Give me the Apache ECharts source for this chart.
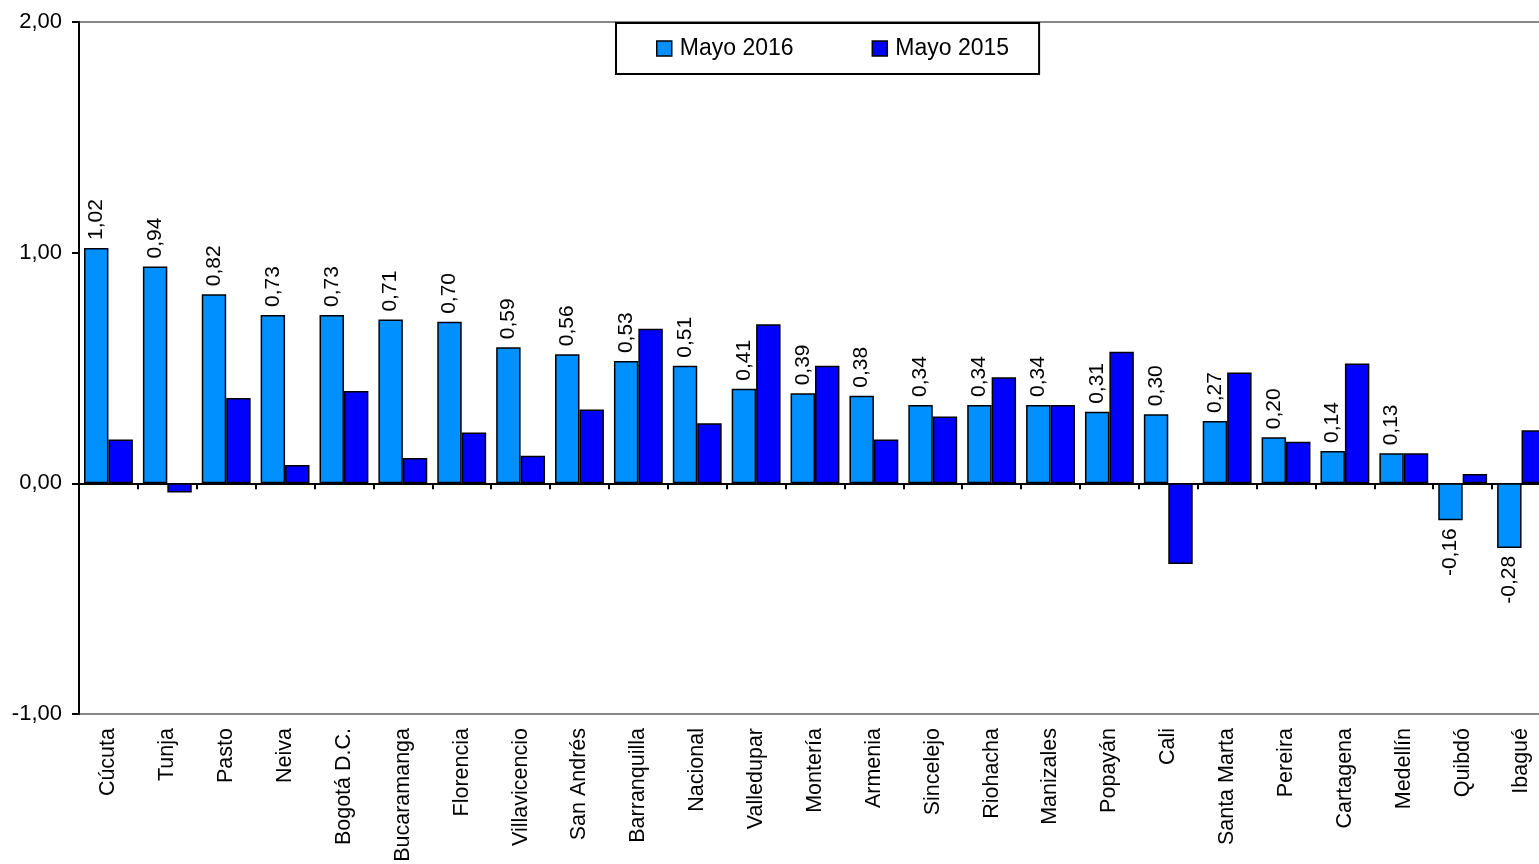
<!DOCTYPE html>
<html>
<head>
<meta charset="utf-8">
<script src="https://cdn.jsdelivr.net/npm/echarts@6/dist/echarts.min.js"></script>
<style>
  html, body { margin: 0; padding: 0; background: #fff; }
  #chart { width: 1539px; height: 864px; }
</style>
</head>
<body>
<div id="chart"></div>
<script>
// Ciudades ordenadas por la variación de mayo 2016
const ciudades = ['Cúcuta', 'Tunja', 'Pasto', 'Neiva', 'Bogotá D.C.', 'Bucaramanga', 'Florencia',
  'Villavicencio', 'San Andrés', 'Barranquilla', 'Nacional', 'Valledupar', 'Montería', 'Armenia',
  'Sincelejo', 'Riohacha', 'Manizales', 'Popayán', 'Cali', 'Santa Marta', 'Pereira', 'Cartagena',
  'Medellín', 'Quibdó', 'Ibagué'];

const mayo2016 = [1.02, 0.94, 0.82, 0.73, 0.73, 0.71, 0.70, 0.59, 0.56, 0.53, 0.51, 0.41, 0.39, 0.38,
  0.34, 0.34, 0.34, 0.31, 0.30, 0.27, 0.20, 0.14, 0.13, -0.16, -0.28];

const mayo2015 = [0.19, -0.04, 0.37, 0.08, 0.40, 0.11, 0.22, 0.12, 0.32, 0.67, 0.26, 0.69, 0.51, 0.19,
  0.29, 0.46, 0.34, 0.57, -0.35, 0.48, 0.18, 0.52, 0.13, 0.04, 0.23];

const nombresSeries = ['Mayo 2016', 'Mayo 2015'];
const ejeY = { min: -1, max: 2, intervalo: 1 };

const FUENTE = "'Liberation Sans', Arial, sans-serif";
const coma = v => Number(v).toFixed(2).replace('.', ',');

// Etiquetas giradas: hacia arriba sobre barras positivas, hacia abajo bajo las negativas
const datos2016 = mayo2016.map(v => v < 0
  ? { value: v, label: { position: 'bottom', align: 'right' } }
  : v);

const chart = echarts.init(document.getElementById('chart'), null, { renderer: 'canvas' });

chart.setOption({
  animation: false,
  backgroundColor: '#ffffff',
  textStyle: { fontFamily: FUENTE },
  grid: {
    left: 79, width: 1472, top: 22, bottom: 150,
    outerBoundsMode: 'none',
    containLabel: false,
    show: true, borderColor: '#878787', borderWidth: 2, backgroundColor: 'transparent'
  },
  legend: {
    data: nombresSeries,
    left: 616, top: 23,
    orient: 'horizontal',
    padding: [14, 30, 14, 40],
    itemGap: 78,
    itemWidth: 15, itemHeight: 15,
    icon: 'rect',
    borderColor: '#000', borderWidth: 2,
    backgroundColor: '#fff',
    itemStyle: { borderColor: '#000', borderWidth: 1.5 },
    textStyle: { fontSize: 23, color: '#000', fontFamily: FUENTE, padding: [0, 0, 0, 3] }
  },
  xAxis: [
    {
      type: 'category',
      data: ciudades,
      position: 'bottom',
      axisLine: { show: false, onZero: false },
      axisTick: { show: false },
      axisLabel: {
        rotate: 90, fontSize: 21.5, color: '#000', margin: 14, interval: 0, fontFamily: FUENTE
      },
      splitLine: { show: false }
    },
    {
      type: 'category',
      data: ciudades,
      position: 'bottom',
      axisLine: { show: true, onZero: true, lineStyle: { color: '#000', width: 2 } },
      axisTick: { show: true, length: 6, inside: false, interval: 0, lineStyle: { color: '#000', width: 2 } },
      axisLabel: { show: false },
      splitLine: { show: false }
    }
  ],
  yAxis: {
    type: 'value',
    min: ejeY.min, max: ejeY.max, interval: ejeY.intervalo,
    axisLine: { show: true, onZero: false, lineStyle: { color: '#000', width: 2 } },
    axisTick: { show: true, length: 7, lineStyle: { color: '#000', width: 2 } },
    axisLabel: { fontSize: 22, color: '#000', margin: 17, formatter: v => coma(v), fontFamily: FUENTE },
    splitLine: { show: false }
  },
  series: [
    {
      name: nombresSeries[0],
      type: 'bar',
      xAxisIndex: 0,
      data: datos2016,
      barGap: '0%',
      barCategoryGap: '17%',
      itemStyle: { color: '#0090FF', borderColor: '#000', borderWidth: 1.5 },
      label: {
        show: true,
        position: 'top',
        rotate: 90,
        align: 'left',
        verticalAlign: 'middle',
        distance: 8,
        fontSize: 21,
        color: '#000',
        fontFamily: FUENTE,
        formatter: p => coma(p.value)
      }
    },
    {
      name: nombresSeries[1],
      type: 'bar',
      xAxisIndex: 0,
      data: mayo2015,
      itemStyle: { color: '#0000FF', borderColor: '#000', borderWidth: 1.5 }
    }
  ]
});
</script>
</body>
</html>
